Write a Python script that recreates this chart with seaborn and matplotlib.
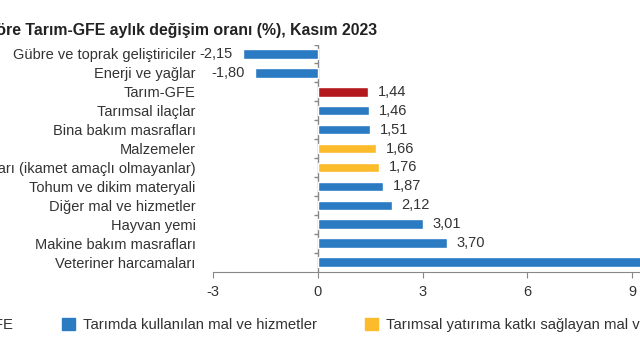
import pandas as pd
import matplotlib.pyplot as plt
import seaborn as sns
from matplotlib.patches import Patch

categories = [
    "Gübre ve toprak geliştiriciler",
    "Enerji ve yağlar",
    "Tarım-GFE",
    "Tarımsal ilaçlar",
    "Bina bakım masrafları",
    "Malzemeler",
    "Binaları (ikamet amaçlı olmayanlar)",
    "Tohum ve dikim materyali",
    "Diğer mal ve hizmetler",
    "Hayvan yemi",
    "Makine bakım masrafları",
    "Veteriner harcamaları",
]
values = [-2.15, -1.80, 1.44, 1.46, 1.51, 1.66, 1.76, 1.87, 2.12, 3.01, 3.70, 10.50]
groups = ["Tarımda kullanılan mal ve hizmetler"] * 2 + ["Tarım-GFE"] + \
    ["Tarımda kullanılan mal ve hizmetler"] * 2 + \
    ["Tarımsal yatırıma katkı sağlayan mal ve hizmetler"] * 2 + \
    ["Tarımda kullanılan mal ve hizmetler"] * 5
group_order = ["Tarım-GFE", "Tarımda kullanılan mal ve hizmetler",
               "Tarımsal yatırıma katkı sağlayan mal ve hizmetler"]
colors = ["#b3191d", "#2b7bc3", "#fbbb2a"]

df = pd.DataFrame({"kategori": categories, "deger": values, "grup": groups})

sns.set_style("white")
plt.rcParams['font.family'] = ['Liberation Sans', 'DejaVu Sans']
plt.rcParams['axes.unicode_minus'] = False

fig = plt.figure(figsize=(6.4, 3.6), dpi=100)
ax = fig.add_axes([213 / 640, 1 - 271.5 / 360, 427 / 640, 227 / 360])

sns.barplot(data=df, x="deger", y="kategori", hue="grup", hue_order=group_order,
            palette=colors, saturation=1, dodge=False, orient="h", width=0.5,
            ax=ax, legend=False)

for cont in ax.containers:
    ax.bar_label(cont, fmt=lambda v: f"{v:.2f}".replace('.', ','), padding=7,
                 fontsize=10.5, color="#333333")

ax.set_xlim(-3, 9 + 8 / 35)
ax.set_ylim(len(categories) - 0.5, -0.5)
ax.set_xticks([-3, 0, 3, 6, 9])
ax.set_xlabel("")
ax.set_ylabel("")
ax.tick_params(axis="x", bottom=True, length=4, color="#888888", labelsize=10.5,
               labelcolor="#333333", pad=6)
ax.tick_params(axis="y", left=False, labelsize=10.5, labelcolor="#333333", pad=9)
for s in ["top", "right", "left"]:
    ax.spines[s].set_visible(False)
ax.spines["bottom"].set_color("#888888")
ax.axvline(0, color="#888888", lw=1, zorder=0)
ax.hlines([i - 0.5 for i in range(len(categories))], -0.1, 0, color="#888888", lw=1)

fig.text(377 / 640, 1 - 30 / 360,
         "Alt gruplara göre Tarım-GFE aylık değişim oranı (%), Kasım 2023",
         ha="right", va="center", fontsize=11.4, fontweight="bold", color="#222222")

handles = [Patch(color=c) for c in colors]
leg = fig.legend(handles, group_order, loc="center left", bbox_to_anchor=(0, 1 - 325 / 360),
                 ncol=3, frameon=False, fontsize=10.7, handlelength=0.9, handleheight=0.9,
                 handletextpad=0.5, columnspacing=3.25, labelcolor="#333333")
fig.canvas.draw()
r = fig.canvas.get_renderer()
bb = leg.legend_handles[1].get_window_extent(r)
dx = 62 - bb.x0
leg.set_bbox_to_anchor((dx / 640, 1 - 325 / 360), transform=fig.transFigure)

fig.savefig("out.png", dpi=100)
